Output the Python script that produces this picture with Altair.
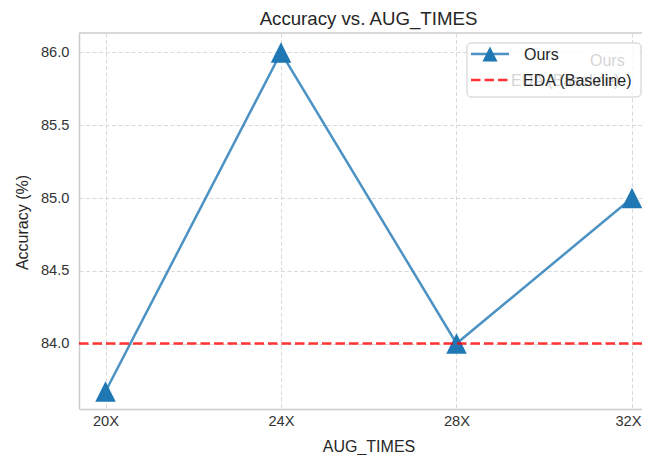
import altair as alt
import pandas as pd

# ---- data ----
categories = ["20X", "24X", "28X", "32X"]
accuracy = [83.67, 86.0, 84.0, 85.0]
baseline_value = [84.0]
series_names = ["Ours", "EDA (Baseline)"]
y_ticks = [84.0, 84.5, 85.0, 85.5, 86.0]
title_text = ["Accuracy vs. AUG_TIMES"]

FONT = "Liberation Sans"
BLUE = "#1f77b4"
RED = "#ff0000"
TEXT = "#262626"
FRAME = "#cccccc"
TRI = "M0,-1L1,1L-1,1Z"

W, H = 563, 376

df = pd.DataFrame({"idx": list(range(len(categories))), "cat": categories, "acc": accuracy})
base_df = pd.DataFrame({"acc": baseline_value})
one = pd.DataFrame({"k": [0]})
title_df = pd.DataFrame({"t": title_text})
leg_ours = pd.DataFrame({"label": [series_names[0]]})
leg_eda = pd.DataFrame({"label": [series_names[1]]})

label_expr = "[" + ",".join("'%s'" % c for c in categories) + "][datum.value]"
last_idx = len(categories) - 1

x_enc = alt.X(
    "idx:Q",
    scale=alt.Scale(domain=[-0.151, 3.057], nice=False, zero=False),
    axis=alt.Axis(
        values=list(range(len(categories))),
        labelExpr=label_expr,
        title="AUG_TIMES",
        labelFont=FONT, labelFontSize=14.67, labelColor="#333333",
        labelBaseline="alphabetic", labelPadding=16,
        labelOffset={"condition": {"test": "datum.value == %d" % last_idx, "value": -4}, "value": 0},
        ticks=False, tickSize=0,
        domain=True, domainColor=FRAME, domainWidth=1.5,
        grid=True, gridColor="#d9d9d9", gridDash=[4, 2.5], gridWidth=1,
        titleFont=FONT, titleFontSize=16, titleFontWeight="normal", titleColor=TEXT,
        titleX=289.5, titleY=42, titleAlign="center", titleBaseline="alphabetic",
    ),
)
y_enc = alt.Y(
    "acc:Q",
    scale=alt.Scale(domain=[83.55, 86.134], nice=False, zero=False),
    axis=alt.Axis(
        values=y_ticks, format=".1f", title="Accuracy (%)",
        labelFont=FONT, labelFontSize=14.67, labelColor="#333333",
        labelPadding=10, ticks=False, tickSize=0,
        domain=True, domainColor=FRAME, domainWidth=1.5,
        grid=True, gridColor="#d9d9d9", gridDash=[4, 2.5], gridWidth=1,
        titleFont=FONT, titleFontSize=16, titleFontWeight="normal", titleColor=TEXT,
        titleAngle=270, titleX=-52, titleY=189, titleAlign="center", titleBaseline="alphabetic",
    ),
)

line = alt.Chart(df).mark_line(color=BLUE, opacity=0.8, strokeWidth=2.5).encode(x=x_enc, y=y_enc)
points = alt.Chart(df).mark_point(shape=TRI, filled=True, size=420, color=BLUE, opacity=1).encode(
    x="idx:Q", y="acc:Q")
rule = alt.Chart(base_df).mark_rule(color=RED, opacity=0.8, strokeWidth=2.5, strokeDash=[9.5, 4]).encode(
    y="acc:Q")

# top edge of the axes frame (right edge lies beyond the picture)
top_edge = alt.Chart(one).mark_rule(color=FRAME, strokeWidth=1.5).encode(
    x=alt.value(0), x2=alt.value(W), y=alt.value(0))

# chart title, centred over the full axes box
title = alt.Chart(title_df).mark_text(font=FONT, fontSize=18.67, color=TEXT, align="center",
                                      baseline="alphabetic").encode(
    x=alt.value(289.5), y=alt.value(-8), text="t:N")

DX = -2
# faded texts lying under the legend box
faded_ours = alt.Chart(leg_ours).mark_text(font=FONT, fontSize=16, color=TEXT, align="left",
                                           baseline="alphabetic").encode(
    x=alt.value(513 + DX), y=alt.value(32.7), text="label:N")
faded_eda = alt.Chart(leg_eda).mark_text(font=FONT, fontSize=16, color=TEXT, align="left",
                                         baseline="alphabetic").encode(
    x=alt.value(434 + DX), y=alt.value(52.7), text="label:N")

# legend
box = alt.Chart(one).mark_rect(fill="white", fillOpacity=0.8, stroke=FRAME, strokeWidth=1,
                               cornerRadius=4).encode(
    x=alt.value(390 + DX), x2=alt.value(562), y=alt.value(10), y2=alt.value(64))
leg_line_ours = alt.Chart(one).mark_rule(color=BLUE, opacity=0.8, strokeWidth=2.5).encode(
    x=alt.value(394 + DX), x2=alt.value(432 + DX), y=alt.value(21))
leg_tri = alt.Chart(one).mark_point(shape=TRI, filled=True, size=225, color=BLUE, opacity=1).encode(
    x=alt.value(413 + DX), y=alt.value(21))
leg_text_ours = alt.Chart(leg_ours).mark_text(font=FONT, fontSize=16, color=TEXT, align="left",
                                              baseline="alphabetic").encode(
    x=alt.value(447 + DX), y=alt.value(26.7), text="label:N")
leg_line_eda = alt.Chart(one).mark_rule(color=RED, opacity=0.8, strokeWidth=2.5, strokeDash=[9.5, 4]).encode(
    x=alt.value(394 + DX), x2=alt.value(432 + DX), y=alt.value(47))
leg_text_eda = alt.Chart(leg_eda).mark_text(font=FONT, fontSize=16, color=TEXT, align="left",
                                            baseline="alphabetic").encode(
    x=alt.value(446 + DX), y=alt.value(52.7), text="label:N")

chart = alt.layer(
    line, points, rule, top_edge, title, faded_ours, faded_eda, box,
    leg_line_ours, leg_tri, leg_text_ours, leg_line_eda, leg_text_eda,
).properties(
    width=W, height=H,
    padding={"left": 71, "top": 25, "right": 0, "bottom": 46},
    autosize=alt.AutoSizeParams(type="none"),
    background="white",
).configure_view(stroke=None)

chart.save("out.html", embed_options={"renderer": "svg", "actions": False})
